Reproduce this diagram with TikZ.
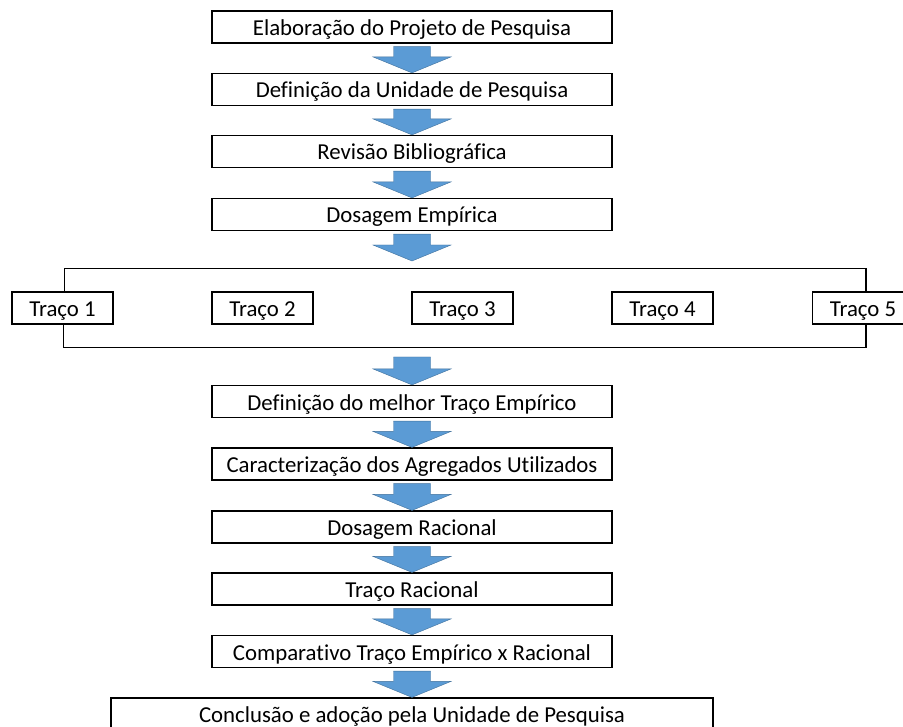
\documentclass[tikz,border=0pt]{standalone}
\usepackage{fontspec}
\setmainfont{Carlito}[Ligatures=NoCommon]
\usetikzlibrary{calc}
\definecolor{arrowblue}{HTML}{5B9BD5}
\definecolor{arrowedge}{HTML}{41719C}
\newcommand\blockarrow[2]{%
  \fill[arrowblue, draw=arrowedge, line width=0.4pt]
    ($(#1)+(-18.5,3)$) -- ($(#1)+(18.5,3)$) -- ($(#2)+(18.5,-16)$) --
    ($(#2)+(39,-16)$) -- (#2) -- ($(#2)+(-39,-16)$) --
    ($(#2)+(-18.5,-16)$) -- cycle;}
\begin{document}
\begin{tikzpicture}[x=1pt,y=-1pt,
  box/.style={draw=black, line width=1.2pt, minimum width=400pt,
    minimum height=32pt, inner sep=0pt, text height=17pt, text depth=0pt,
    font=\fontsize{22.8}{26}\selectfont},
  tbox/.style={box, minimum width=101pt},
  bar/.style={draw=black, line width=1.2pt}]
\useasboundingbox (0,0) rectangle (903,727);
\clip (0,0) rectangle (903,727);
\fill[white] (0,0) rectangle (903,727);

\node[box] (b1) at (412,27)    {Elaboração do Projeto de Pesquisa};
\node[box] (b2) at (412,89.5)  {Definição da Unidade de Pesquisa};
\node[box] (b3) at (412,151.5) {Revisão Bibliográfica};
\node[box] (b4) at (412,214.5) {Dosagem Empírica};

\node[tbox] (t1) at (62.5,308)  {Traço 1};
\node[tbox] (t2) at (262.5,308) {Traço 2};
\node[tbox] (t3) at (462.5,308) {Traço 3};
\node[tbox] (t4) at (662.5,308) {Traço 4};
\node[tbox] (t5) at (863,308)   {Traço 5};

\node[box] (b5) at (412,401.5) {Definição do melhor Traço Empírico};
\node[box] (b6) at (412,464)   {Caracterização dos Agregados Utilizados};
\node[box] (b7) at (412,527)   {Dosagem Racional};
\node[box] (b8) at (412,589)   {Traço Racional};
\node[box] (b9) at (412,651.5) {Comparativo Traço Empírico x Racional};
\node[box, minimum width=602pt] (b10) at (412,714) {Conclusão e adoção pela Unidade de Pesquisa};

\coordinate (barin) at (412,261);
\coordinate (barout) at (412,354);

\draw[bar] ($(t1.north)+(2,0)$) -- ++(0,-23) -| ($(t5.north)+(3,0)$);
\draw[bar] ($(t1.south)+(1,0)$) -- ++(0,23) -| ($(t5.south)+(3,0)$);

\blockarrow{b1.south}{b2.north}
\blockarrow{b2.south}{b3.north}
\blockarrow{b3.south}{b4.north}
\blockarrow{b4.south}{barin}
\blockarrow{barout}{b5.north}
\blockarrow{b5.south}{b6.north}
\blockarrow{b6.south}{b7.north}
\blockarrow{b7.south}{b8.north}
\blockarrow{b8.south}{b9.north}
\blockarrow{b9.south}{b10.north}
\end{tikzpicture}
\end{document}
